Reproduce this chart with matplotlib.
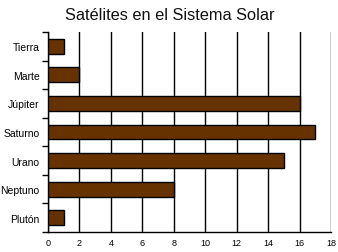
import matplotlib
matplotlib.use("Agg")
import matplotlib.pyplot as plt
import numpy as np

plt.rcParams['font.family'] = ['Liberation Sans', 'DejaVu Sans']

planets = ["Tierra", "Marte", "Júpiter", "Saturno", "Urano", "Neptuno", "Plutón"]
satellites = [1, 2, 16, 17, 15, 8, 1]
xticks = [0, 2, 4, 6, 8, 10, 12, 14, 16, 18]

fig = plt.figure(figsize=(3.38, 2.53), dpi=100)
ax = fig.add_axes([48/338, 20/253, 283/338, 200/253])

n = len(planets)
y = np.arange(n)
ax.barh(y, satellites, height=0.52, color="#663300", edgecolor="black", linewidth=1, zorder=3)
ax.set_ylim(n - 0.5, -0.5)
ax.set_xlim(0, 18)
ax.set_xticks(xticks)
ax.set_xticklabels([str(t) for t in xticks], fontsize=6.5)
ax.tick_params(axis='x', length=0, pad=4)
ax.grid(axis='x', color='black', linewidth=1, zorder=0)

ax.set_yticks(y)
ax.set_yticklabels(planets, fontsize=7.5)
ax.tick_params(axis='y', which='major', length=0, pad=6)
ax.set_yticks(np.arange(n + 1) - 0.5, minor=True)
ax.tick_params(axis='y', which='minor', length=4, width=1, color='black')

for s in ['top', 'right']:
    ax.spines[s].set_visible(False)
for s in ['left', 'bottom']:
    ax.spines[s].set_color('black')
    ax.spines[s].set_linewidth(1)

fig.text(0.503, 1 - 15/253, "Satélites en el Sistema Solar", fontsize=11.8,
         ha='center', va='center', color='#111111')
fig.savefig("out.png", dpi=100)
